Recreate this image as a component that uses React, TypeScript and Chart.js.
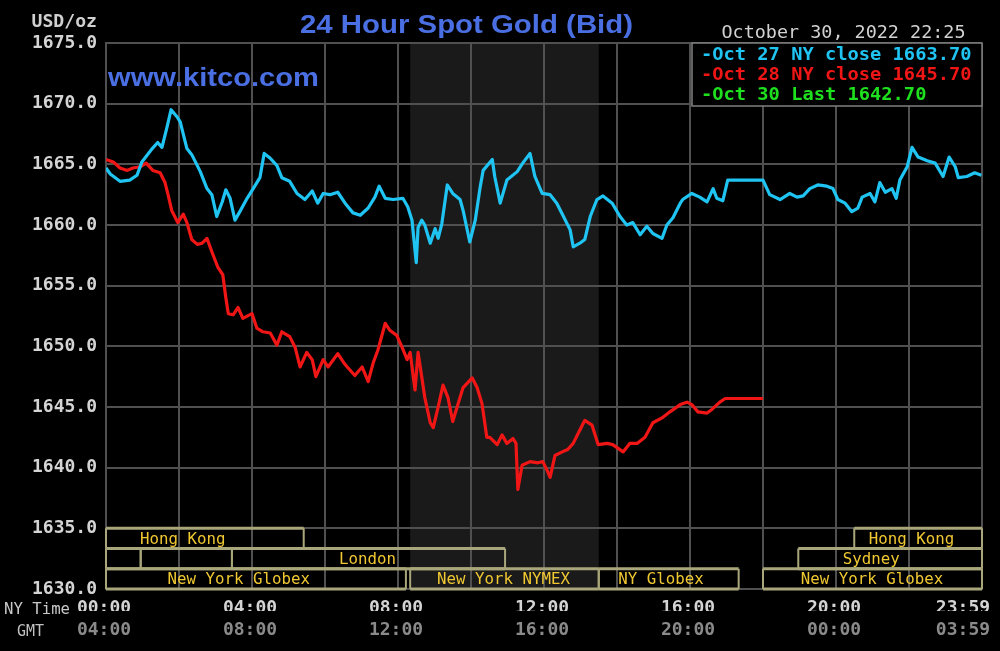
import React, { useEffect, useRef } from "react";
import { Chart, registerables } from "chart.js";

Chart.register(...registerables);

// ---------- DATA ----------
// Oct 27 (cyan) : NY time in minutes since midnight, price USD/oz
const oct27Minutes = [0,7,23,39,51,59,76,85,92,100,107,117,122,133,141,155,166,174,182,191,197,204,212,220,232,242,253,260,270,281,289,302,314,327,339,348,357,368,381,393,406,418,431,442,449,459,472,488,496,503,510,513,519,524,533,541,546,552,561,570,582,587,598,607,615,620,635,639,648,659,676,685,697,705,717,730,741,751,763,768,779,787,796,807,817,832,845,856,866,878,889,899,914,922,932,944,948,963,976,988,998,1004,1014,1022,1080,1091,1108,1124,1136,1146,1157,1170,1185,1195,1203,1215,1226,1236,1243,1256,1264,1272,1281,1292,1299,1305,1317,1325,1335,1350,1363,1376,1386,1396,1401,1415,1428,1439];
const oct27Prices = [1664.7,1664.2,1663.6,1663.7,1664.1,1665.2,1666.3,1666.8,1666.4,1668.0,1669.5,1668.9,1668.5,1666.3,1665.8,1664.4,1663.0,1662.5,1660.7,1661.9,1662.9,1662.2,1660.4,1661.1,1662.2,1663.0,1663.9,1665.9,1665.5,1664.9,1663.9,1663.6,1662.6,1662.1,1662.8,1661.8,1662.6,1662.5,1662.7,1661.8,1661.0,1660.8,1661.4,1662.3,1663.2,1662.2,1662.1,1662.2,1661.5,1660.4,1656.9,1659.8,1660.4,1660.0,1658.5,1659.7,1658.9,1660.1,1663.3,1662.6,1662.1,1661.2,1658.6,1660.4,1663.1,1664.5,1665.4,1664.0,1661.8,1663.7,1664.4,1665.1,1665.9,1664.0,1662.6,1662.5,1661.8,1660.8,1659.6,1658.2,1658.5,1658.8,1660.7,1662.1,1662.4,1661.8,1660.7,1660.0,1660.2,1659.2,1659.9,1659.3,1658.9,1660.0,1660.6,1661.8,1662.1,1662.6,1662.3,1661.9,1663.0,1662.2,1662.0,1663.7,1663.7,1662.5,1662.1,1662.6,1662.3,1662.4,1663.0,1663.3,1663.2,1663.0,1662.1,1661.8,1661.1,1661.4,1662.3,1662.6,1661.9,1663.5,1662.7,1663.0,1662.2,1663.7,1664.8,1666.4,1665.6,1665.3,1665.1,1664.0,1665.6,1664.8,1663.9,1664.0,1664.3,1664.1];

// Oct 28 (red)
const oct28Minutes = [0,12,23,35,44,56,66,77,89,97,102,108,118,127,133,141,150,158,166,174,184,192,197,201,209,217,225,240,248,258,270,281,289,302,311,319,330,339,345,357,365,381,393,409,421,431,439,447,459,467,478,487,495,500,508,513,519,524,533,538,546,554,562,570,579,587,602,610,618,626,631,643,651,659,669,674,677,684,697,710,718,725,730,738,750,759,768,779,787,799,809,824,833,850,861,873,886,899,914,927,944,955,963,973,988,996,1009,1018,1080];
const oct28Prices = [1665.4,1665.2,1664.7,1664.5,1664.7,1664.8,1665.1,1664.5,1664.3,1663.5,1662.5,1661.2,1660.2,1660.9,1660.2,1658.8,1658.4,1658.5,1658.9,1657.8,1656.5,1655.9,1654.0,1652.7,1652.6,1653.2,1652.3,1652.7,1651.5,1651.2,1651.1,1650.1,1651.2,1650.8,1649.9,1648.3,1649.5,1648.9,1647.5,1648.9,1648.3,1649.4,1648.5,1647.6,1648.3,1647.1,1648.6,1649.7,1651.9,1651.3,1650.9,1649.9,1648.9,1649.5,1646.4,1649.5,1647.5,1645.8,1643.7,1643.3,1645.0,1646.8,1645.8,1643.8,1645.3,1646.6,1647.4,1646.6,1645.3,1642.5,1642.5,1641.9,1642.7,1642.0,1642.4,1642.0,1638.2,1640.2,1640.5,1640.4,1640.5,1639.8,1639.2,1641.0,1641.3,1641.5,1642.0,1643.1,1643.9,1643.5,1641.9,1642.0,1641.9,1641.3,1642.0,1642.0,1642.5,1643.7,1644.1,1644.6,1645.2,1645.4,1645.2,1644.6,1644.5,1644.8,1645.4,1645.7,1645.7];

// Axis ticks
const yTickValues = [1630, 1635, 1640, 1645, 1650, 1655, 1660, 1665, 1670, 1675];
const gridMinutes = [0, 120, 240, 360, 480, 600, 720, 840, 960, 1080, 1200, 1320, 1440];
const labelMinutes = [0, 240, 480, 720, 960, 1200, 1412];
const nyTimeLabels = ["00:00", "04:00", "08:00", "12:00", "16:00", "20:00", "23:59"];
const gmtLabels = ["04:00", "08:00", "12:00", "16:00", "20:00", "00:00", "03:59"];

// NYMEX pit session shading (minutes)
const nymexStart = 500;
const nymexEnd = 810;

// Trading sessions drawn in the bottom band (rows 0..2)
const sessionNames = ["Hong Kong", "", "", "London", "New York Globex", "New York NYMEX", "NY Globex", "Hong Kong", "Sydney", "New York Globex"];
const sessionRows = [0, 1, 1, 1, 2, 2, 2, 0, 1, 2];
const sessionStarts = [0, 0, 57, 207, 0, 500, 810, 1230, 1138, 1080];
const sessionEnds = [325, 57, 207, 656, 493, 810, 1040, 1440, 1440, 1440];
const sessionLabelAt = [56, 0, 0, 383, 101, 544, 842, 1254, 1211, 1142];
const sessionBandTop = 1635;
const sessionBandBottom = 1630;

// Legend / header texts
const legendLabels = ["-Oct 27 NY close 1663.70", "-Oct 28 NY close 1645.70", "-Oct 30 Last 1642.70"];
const titleText = "24 Hour Spot Gold (Bid)";
const siteText = "www.kitco.com";
const dateText = "October 30, 2022 22:25";
const unitText = "USD/oz";

// ---------- STYLE ----------
const CYAN = "#20c4f2";
const RED = "#f01616";
const GREEN = "#1ee01e";
const GRID = "#505050";
const KHAKI = "#a8a67a";
const GOLD = "#f0c832";
const BLUE = "#4a6fe3";
const MONO = "'DejaVu Sans Mono', monospace";
const SANS = "'Liberation Sans', Arial, sans-serif";

function fitText(ctx: CanvasRenderingContext2D, text: string, x: number, baseline: number, width: number, font: string, color: string, align: "left" | "right" = "left") {
  ctx.save();
  ctx.font = font;
  ctx.fillStyle = color;
  ctx.textBaseline = "alphabetic";
  ctx.textAlign = "left";
  const w = ctx.measureText(text).width;
  const sx = width / w;
  const left = align === "right" ? x - width : x;
  ctx.translate(left, baseline);
  ctx.scale(sx, 1);
  ctx.fillText(text, 0, 0);
  ctx.restore();
}

const decorPlugin = {
  id: "kitcoDecor",
  beforeDraw(chart: any) {
    const { ctx, chartArea } = chart;
    const xs = chart.scales.x;
    ctx.save();
    ctx.fillStyle = "#000";
    ctx.fillRect(0, 0, chart.width, chart.height);
    ctx.fillStyle = "#1a1a1a";
    const l = xs.getPixelForValue(nymexStart);
    const r = xs.getPixelForValue(nymexEnd);
    ctx.fillRect(l, chartArea.top, r - l, chartArea.bottom - chartArea.top);
    ctx.restore();
  },
  beforeDatasetsDraw(chart: any) {
    const { ctx } = chart;
    const xs = chart.scales.x;
    const ys = chart.scales.y;
    const rowH = (sessionBandTop - sessionBandBottom) / 3;
    ctx.save();
    for (let i = 0; i < sessionNames.length; i++) {
      const r = sessionRows[i];
      const top = ys.getPixelForValue(sessionBandTop - r * rowH);
      const bottom = ys.getPixelForValue(sessionBandTop - (r + 1) * rowH);
      const left = xs.getPixelForValue(sessionStarts[i]);
      const right = xs.getPixelForValue(sessionEnds[i]);
      ctx.strokeStyle = KHAKI;
      ctx.lineWidth = 3;
      ctx.beginPath();
      ctx.moveTo(left, top);
      ctx.lineTo(right, top);
      ctx.moveTo(left, bottom);
      ctx.lineTo(right, bottom);
      ctx.stroke();
      ctx.lineWidth = 2;
      ctx.beginPath();
      ctx.moveTo(left, top);
      ctx.lineTo(left, bottom);
      ctx.moveTo(right, top);
      ctx.lineTo(right, bottom);
      ctx.stroke();
      const name = sessionNames[i];
      if (name) {
        const lx = xs.getPixelForValue(sessionLabelAt[i]);
        const mid = (top + bottom) / 2;
        fitText(ctx, name, lx, mid + 5.5, name.length * 9.5, `15.5px ${MONO}`, GOLD);
      }
    }
    ctx.restore();
  },
  afterDraw(chart: any) {
    const { ctx } = chart;
    const xs = chart.scales.x;
    const ys = chart.scales.y;
    ctx.save();
    // legend box
    const lx = 692;
    const lr = xs.getPixelForValue(1440);
    const lt = ys.getPixelForValue(1675);
    ctx.fillStyle = "#000";
    ctx.fillRect(lx, lt, lr - lx, 63);
    ctx.strokeStyle = "#808080";
    ctx.lineWidth = 1.5;
    ctx.strokeRect(lx, lt, lr - lx, 63);
    const colors = [CYAN, RED, GREEN];
    const baselines = [60, 79.5, 99.5];
    legendLabels.forEach((t, i) => {
      fitText(ctx, t, 701, baselines[i], t.length * 11.27, `bold 17px ${MONO}`, colors[i]);
    });
    // header texts
    fitText(ctx, titleText, 300, 33, 333, `bold 26px ${SANS}`, BLUE);
    fitText(ctx, siteText, 108, 86, 211, `bold 26px ${SANS}`, BLUE);
    fitText(ctx, dateText, 721.5, 38, 244, `18px ${MONO}`, "#d2d2d2");
    fitText(ctx, unitText, 97, 27, 65.5, `bold 18px ${MONO}`, "#d0d0d0", "right");
    fitText(ctx, "NY Time", 4, 614, 66, `16px ${MONO}`, "#c8c8c8");
    fitText(ctx, "GMT", 17, 636, 27, `16px ${MONO}`, "#c0c0c0");
    ctx.restore();
  },
};

function labelFor(v: number, labels: string[]) {
  const idx = labelMinutes.indexOf(v);
  return idx >= 0 ? labels[idx] : "";
}

const xTickValues = Array.from(new Set([...gridMinutes, ...labelMinutes])).sort((a, b) => a - b);

export default function App() {
  const ref = useRef<HTMLCanvasElement>(null);

  useEffect(() => {
    const canvas = ref.current;
    if (!canvas) return;
    const toPoints = (xs: number[], ys: number[]) => xs.map((x, i) => ({ x, y: ys[i] }));
    const tickFont = { family: MONO, size: 18, weight: "bold" as const };

    const chart = new Chart(canvas, {
      type: "line",
      data: {
        datasets: [
          {
            label: "Oct 27",
            data: toPoints(oct27Minutes, oct27Prices),
            borderColor: CYAN,
            backgroundColor: CYAN,
            borderWidth: 3.2,
            pointRadius: 0,
            tension: 0,
            borderJoinStyle: "round",
            xAxisID: "x",
            yAxisID: "y",
          },
          {
            label: "Oct 28",
            data: toPoints(oct28Minutes, oct28Prices),
            borderColor: RED,
            backgroundColor: RED,
            borderWidth: 3.2,
            pointRadius: 0,
            tension: 0,
            borderJoinStyle: "round",
            xAxisID: "x",
            yAxisID: "y",
          },
        ],
      },
      options: {
        responsive: false,
        animation: false,
        devicePixelRatio: 1,
        events: [],
        layout: { padding: { top: 43, right: 18, bottom: 0, left: 0 } },
        plugins: {
          legend: { display: false },
          title: { display: false },
          tooltip: { enabled: false },
        },
        scales: {
          x: {
            type: "linear",
            position: "bottom",
            weight: 0,
            min: 0,
            max: 1440,
            afterBuildTicks: (s: any) => {
              s.ticks = xTickValues.map((v) => ({ value: v }));
            },
            afterFit: (s: any) => {
              s.height = 22;
              s.paddingLeft = 0;
              s.paddingRight = 0;
            },
            grid: {
              color: (c: any) => (c.tick && gridMinutes.includes(c.tick.value) ? GRID : "rgba(0,0,0,0)"),
              lineWidth: 2,
              drawTicks: false,
            },
            border: { color: GRID, width: 2 },
            ticks: {
              autoSkip: false,
              maxRotation: 0,
              minRotation: 0,
              padding: 9,
              labelOffset: -2,
              color: "#d4d4d4",
              font: tickFont,
              callback: (v: any) => labelFor(Number(v), nyTimeLabels),
            },
          },
          x2: {
            type: "linear",
            position: "bottom",
            weight: 1,
            min: 0,
            max: 1440,
            afterBuildTicks: (s: any) => {
              s.ticks = xTickValues.map((v) => ({ value: v }));
            },
            afterFit: (s: any) => {
              s.height = 40;
              s.paddingLeft = 0;
              s.paddingRight = 0;
            },
            grid: { display: false, drawTicks: false },
            border: { display: false },
            ticks: {
              autoSkip: false,
              maxRotation: 0,
              minRotation: 0,
              padding: 9,
              labelOffset: -2,
              color: "#8a8a8a",
              font: tickFont,
              callback: (v: any) => labelFor(Number(v), gmtLabels),
            },
          },
          y: {
            type: "linear",
            position: "left",
            min: 1630,
            max: 1675,
            afterBuildTicks: (s: any) => {
              s.ticks = yTickValues.map((v) => ({ value: v }));
            },
            afterFit: (s: any) => {
              s.width = 106;
            },
            grid: { color: GRID, lineWidth: 2, drawTicks: false },
            border: { color: GRID, width: 2 },
            ticks: {
              padding: 9,
              color: "#d4d4d4",
              font: tickFont,
              callback: (v: any) => Number(v).toFixed(1),
            },
          },
        },
      } as any,
      plugins: [decorPlugin],
    });
    return () => chart.destroy();
  }, []);

  return (
    <div style={{ position: "fixed", left: 0, top: 0, width: 1000, height: 651, background: "#000" }}>
      <canvas ref={ref} width={1000} height={651} style={{ display: "block", width: 1000, height: 651 }} />
    </div>
  );
}
